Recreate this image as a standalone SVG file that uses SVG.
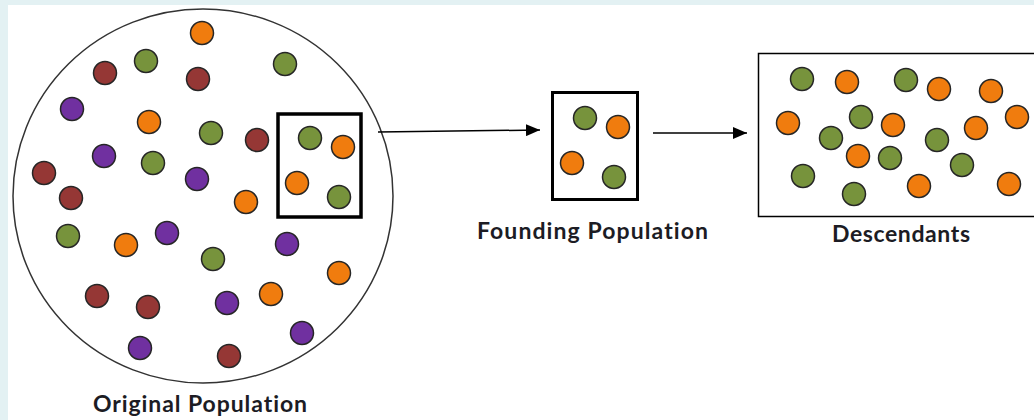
<svg xmlns="http://www.w3.org/2000/svg" width="1034" height="420" viewBox="0 0 1034 420">
  <style>
    .dot { stroke: #262626; stroke-width: 1.5; }
    .g { fill: #77933c; }
    .o { fill: #f07c0e; }
    .r { fill: #953735; }
    .p { fill: #7030a0; }
    .lbl { font-family: Lato, "Open Sans", "Liberation Sans", sans-serif; font-weight: 700; font-size: 23px; fill: #1c1c24; text-anchor: middle; font-variant-ligatures: none; }
    .conn { stroke: #000; stroke-width: 1.5; fill: none; }
  </style>
  <defs>
    <marker id="arrow" markerUnits="userSpaceOnUse" markerWidth="14" markerHeight="12" refX="14" refY="6" orient="auto">
      <path d="M0,0 L14,6 L0,12 Z" fill="#000"/>
    </marker>
  </defs>
  <rect x="0" y="0" width="1034" height="420" fill="#e3f1f3"/>
  <rect x="8" y="5" width="1026" height="415" fill="#ffffff"/>

  <g id="original-population">
    <ellipse cx="203" cy="196" rx="190" ry="187" fill="#fff" stroke="#333" stroke-width="1.5"/>
    <circle class="dot o" cx="202" cy="33" r="11.5"/>
    <circle class="dot g" cx="146" cy="61" r="11.5"/>
    <circle class="dot r" cx="105" cy="73" r="11.5"/>
    <circle class="dot r" cx="198" cy="79" r="11.5"/>
    <circle class="dot g" cx="285" cy="64" r="11.5"/>
    <circle class="dot p" cx="72" cy="109" r="11.5"/>
    <circle class="dot o" cx="149" cy="122" r="11.5"/>
    <circle class="dot g" cx="211" cy="133" r="11.5"/>
    <circle class="dot r" cx="257" cy="140" r="11.5"/>
    <circle class="dot p" cx="104" cy="156" r="11.5"/>
    <circle class="dot g" cx="153" cy="163" r="11.5"/>
    <circle class="dot r" cx="44" cy="173" r="11.5"/>
    <circle class="dot p" cx="197" cy="179" r="11.5"/>
    <circle class="dot r" cx="71" cy="198" r="11.5"/>
    <circle class="dot o" cx="246" cy="202" r="11.5"/>
    <circle class="dot g" cx="68" cy="236" r="11.5"/>
    <circle class="dot o" cx="126" cy="245" r="11.5"/>
    <circle class="dot p" cx="167" cy="233" r="11.5"/>
    <circle class="dot g" cx="213" cy="259" r="11.5"/>
    <circle class="dot p" cx="287" cy="244" r="11.5"/>
    <circle class="dot o" cx="339" cy="273" r="11.5"/>
    <circle class="dot r" cx="97" cy="296" r="11.5"/>
    <circle class="dot r" cx="148" cy="307" r="11.5"/>
    <circle class="dot p" cx="227" cy="303" r="11.5"/>
    <circle class="dot o" cx="271" cy="294" r="11.5"/>
    <circle class="dot p" cx="302" cy="333" r="11.5"/>
    <circle class="dot p" cx="140" cy="348" r="11.5"/>
    <circle class="dot r" cx="229" cy="356" r="11.5"/>
    <rect x="278" y="114" width="83" height="103" fill="none" stroke="#000" stroke-width="3.5"/>
    <circle class="dot g" cx="310" cy="138" r="11.5"/>
    <circle class="dot o" cx="343" cy="147" r="11.5"/>
    <circle class="dot o" cx="297" cy="183" r="11.5"/>
    <circle class="dot g" cx="339" cy="197" r="11.5"/>
    <text class="lbl" x="200" y="412" textLength="214" lengthAdjust="spacing">Original Population</text>
  </g>

  <g id="founding-population">
    <rect x="552.5" y="92.5" width="85" height="107" fill="#fff" stroke="#000" stroke-width="3"/>
    <circle class="dot g" cx="585" cy="118" r="11.5"/>
    <circle class="dot o" cx="618" cy="127" r="11.5"/>
    <circle class="dot o" cx="572" cy="163" r="11.5"/>
    <circle class="dot g" cx="614" cy="177" r="11.5"/>
    <text class="lbl" x="592.5" y="239" textLength="231" lengthAdjust="spacing">Founding Population</text>
  </g>

  <g id="descendants">
    <rect x="758.5" y="53.5" width="300" height="163" fill="#fff" stroke="#000" stroke-width="1.5"/>
    <circle class="dot g" cx="802" cy="79" r="11.5"/>
    <circle class="dot o" cx="847" cy="82" r="11.5"/>
    <circle class="dot g" cx="906" cy="80" r="11.5"/>
    <circle class="dot o" cx="939" cy="89" r="11.5"/>
    <circle class="dot o" cx="991" cy="91" r="11.5"/>
    <circle class="dot o" cx="788" cy="123" r="11.5"/>
    <circle class="dot g" cx="861" cy="117" r="11.5"/>
    <circle class="dot o" cx="893" cy="125" r="11.5"/>
    <circle class="dot g" cx="831" cy="138" r="11.5"/>
    <circle class="dot g" cx="937" cy="140" r="11.5"/>
    <circle class="dot o" cx="976" cy="128" r="11.5"/>
    <circle class="dot o" cx="1017" cy="117" r="11.5"/>
    <circle class="dot o" cx="858" cy="156" r="11.5"/>
    <circle class="dot g" cx="890" cy="158" r="11.5"/>
    <circle class="dot g" cx="962" cy="165" r="11.5"/>
    <circle class="dot g" cx="803" cy="176" r="11.5"/>
    <circle class="dot g" cx="854" cy="194" r="11.5"/>
    <circle class="dot o" cx="919" cy="186" r="11.5"/>
    <circle class="dot o" cx="1009" cy="184" r="11.5"/>
    <text class="lbl" x="901" y="242" textLength="138" lengthAdjust="spacing">Descendants</text>
  </g>

  <g id="connectors">
    <line class="conn" x1="378" y1="132" x2="540" y2="130" marker-end="url(#arrow)"/>
    <line class="conn" x1="653" y1="133" x2="747" y2="133" marker-end="url(#arrow)"/>
  </g>
</svg>
